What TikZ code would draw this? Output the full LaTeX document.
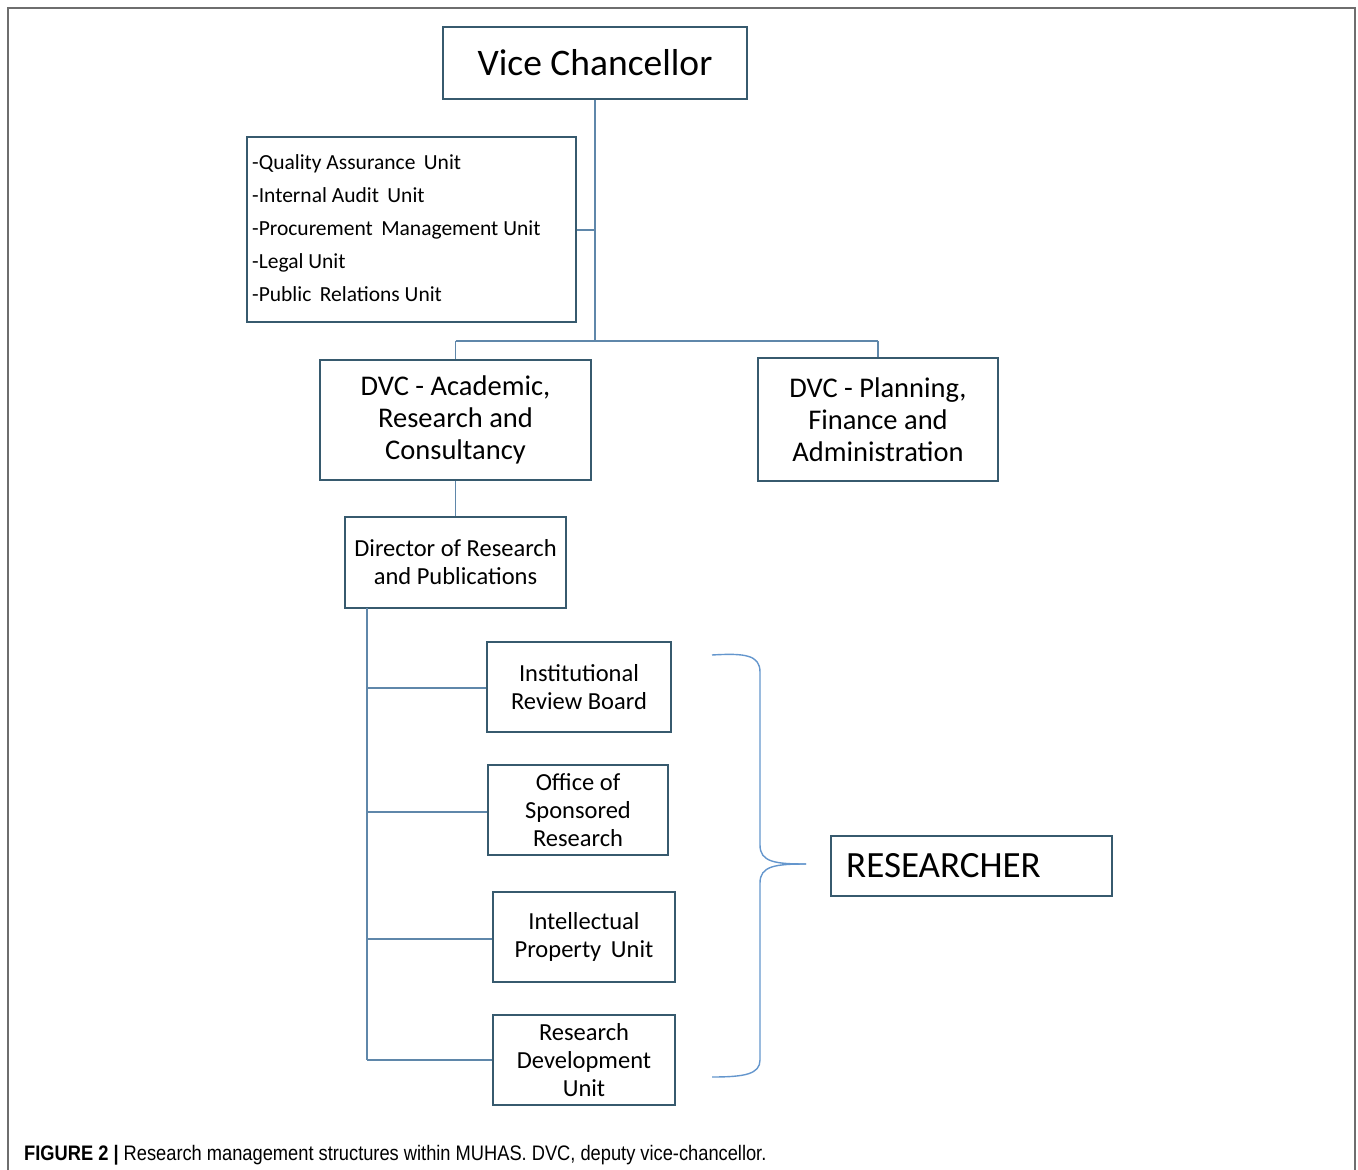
\documentclass[tikz,border=0pt]{standalone}
\usepackage{fontspec}
\setmainfont{Carlito}
\newfontfamily\capfont[FakeStretch=0.87]{Liberation Sans}
\definecolor{boxc}{RGB}{55,90,110}
\definecolor{linec}{RGB}{95,135,170}
\definecolor{bracec}{RGB}{100,150,205}
\definecolor{framec}{RGB}{110,110,110}
\begin{document}
\begin{tikzpicture}[x=1pt,y=-1pt,
  box/.style={draw=boxc,line width=1.2pt,inner sep=0pt,align=center},
  conn/.style={draw=linec,line width=1.4pt},
  fA/.style={font=\fontsize{37.5}{45}\selectfont},
  fB/.style={font=\fontsize{28.5}{32}\selectfont},
  fC/.style={font=\fontsize{24.5}{28}\selectfont},
  fD/.style={font=\fontsize{21.5}{33}\selectfont},
  fE/.style={font=\fontsize{37}{44}\selectfont}]
\useasboundingbox (0,0) rectangle (1358,1170);
\draw[framec,line width=1.6pt] (8,1170) -- (8,8) -- (1355,8) -- (1355,1170);
% nodes
\node[box,fA,minimum width=304pt,minimum height=72pt] (vc) at (595,63) {Vice Chancellor};
\node[box,minimum width=329pt,minimum height=185pt] (units) at (411.5,229.5) {};
\node[fD,anchor=west,align=left,inner sep=0pt] (unitstxt) at (252,228.5) {-Quality Assurance\, Unit\\-Internal Audit\, Unit\\-Procurement\, Management Unit\\-Legal Unit\\-Public\, Relations Unit};
\node[box,fB,minimum width=271pt,minimum height=120pt] (dvca) at (455.5,420) {DVC - Academic,\\Research and\\Consultancy};
\node[box,fB,minimum width=240pt,minimum height=123pt] (dvcp) at (878,419.5) {DVC - Planning,\\Finance and\\Administration};
\node[box,fC,minimum width=221pt,minimum height=91pt] (dir) at (455.5,562.5) {Director of Research\\and Publications};
\node[box,fC,minimum width=184pt,minimum height=90pt] (irb) at (579,687) {Institutional\\Review Board};
\node[box,fC,minimum width=180pt,minimum height=90pt] (osr) at (578,810) {Office of\\Sponsored\\Research};
\node[box,fC,minimum width=182pt,minimum height=90pt] (ipu) at (584,937) {Intellectual\\Property\, Unit};
\node[box,fC,minimum width=182pt,minimum height=90pt] (rdu) at (584,1060) {Research\\Development\\Unit};
\node[box,minimum width=281pt,minimum height=60pt] (res) at (971.5,866) {};
\node[fE,anchor=west,inner sep=0pt] (restxt) at (846,866) {RESEARCHER};
% connectors
\coordinate (j1) at (595,341);
\coordinate (ju) at (595,230);
\coordinate (jl) at (455.5,341);
\coordinate (jr) at (878,341);
\coordinate (d0) at (367,608);
\coordinate (d1) at (367,688);
\coordinate (d2) at (367,812);
\coordinate (d3) at (367,939);
\coordinate (d4) at (367,1060);
\draw[conn] (vc.south) -- (j1);
\draw[conn] (units.east |- ju) -- (ju);
\draw[conn] (jl) -- (jr);
\draw[conn] (jl) -- (dvca.north);
\draw[conn] (jr) -- (dvcp.north);
\draw[conn] (dvca.south) -- (dir.north);
\draw[conn] (d0) -- (d4);
\draw[conn] (d1) -- (irb.west |- d1);
\draw[conn] (d2) -- (osr.west |- d2);
\draw[conn] (d3) -- (ipu.west |- d3);
\draw[conn] (d4) -- (rdu.west |- d4);
% brace
\coordinate (bt) at (712,655);
\coordinate (bb) at (712,1077);
\coordinate (btip) at (806,864);
\draw[bracec,line width=1.4pt] (bt) .. controls (745,653) and (760,655) .. (760,672)
  -- (760,845) .. controls (760,862) and (775,864) .. (btip);
\draw[bracec,line width=1.4pt] (btip) .. controls (775,864) and (760,866) .. (760,883)
  -- (760,1060) .. controls (760,1074) and (745,1077) .. (bb);
% caption
\node[anchor=base west,inner sep=0pt,font=\capfont\fontsize{21}{24}\selectfont] (cap) at (24,1160) {\textbf{FIGURE 2 |} Research management structures within MUHAS. DVC, deputy vice-chancellor.};
\end{tikzpicture}
\end{document}
